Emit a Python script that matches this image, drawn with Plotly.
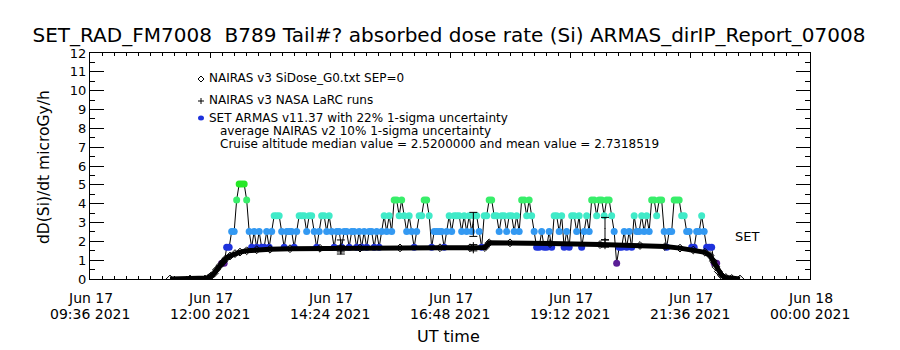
import plotly.graph_objects as go
from datetime import datetime, timedelta

# ---------------- data ----------------
DAY = "2021-06-17"

# ARMAS quantised dose-rate levels (microGy/h) and their colours
armas_levels = [0.84, 1.68, 2.52, 3.36, 4.20, 5.04]
armas_level_colors = ["#5a1e96", "#1e32dc", "#3399f2", "#40eac8", "#38ee6a", "#26e826"]
armas_start = "2021-06-17 12:14"
armas_step_minutes = 3
# level index of every ARMAS sample (one sample every 3 minutes)
armas_codes = [
    0, 0, 1, 1, 2, 2, 4, 5, 5, 5, 4, 2,
    1, 2, 1, 2, 1, 1, 2, 1, 2, 3, 3, 3,
    2, 1, 2, 2, 2, 1, 2, 3, 3, 3, 2, 3,
    3, 2, 1, 2, 3, 3, 2, 3, 2, 1, 2, 2,
    1, 2, 2, 1, 2, 2, 1, 2, 1, 2, 1, 2,
    2, 1, 2, 1, 2, 3, 2, 3, 2, 4, 4, 3,
    4, 3, 2, 3, 2, 1, 2, 3, 3, 4, 4, 3,
    1, 2, 2, 2, 2, 1, 2, 3, 2, 3, 3, 3,
    2, 3, 2, 3, 2, 3, 3, 2, 1, 3, 3, 4,
    4, 3, 3, 2, 3, 3, 2, 3, 3, 2, 3, 2,
    4, 4, 3, 4, 3, 2, 1, 1, 2, 1, 1, 2,
    1, 3, 3, 2, 3, 1, 2, 1, 3, 3, 2, 3,
    1, 2, 3, 2, 4, 4, 3, 4, 4, 3, 4, 4,
    3, 2, 0, 1, 1, 2, 1, 2, 1, 3, 2, 2,
    3, 2, 3, 2, 4, 4, 3, 4, 4, 2, 1, 2,
    2, 4, 4, 4, 3, 3, 2, 2, 1, 1, 2, 2,
    3, 2, 1, 1, 1, 0, 0,
]

# NAIRAS v3 model (SiDose_G0.txt, SEP=0)
nairas_times = ["11:12", "11:36", "11:54", "11:58", "12:01", "12:05", "12:08", "12:12",
                "12:16", "12:19", "12:24", "12:30", "12:36", "12:44", "12:56", "13:12",
                "13:36", "14:12", "15:00", "15:48", "16:36", "17:12", "17:30", "17:35",
                "18:00", "18:48", "19:48", "20:36", "21:06", "21:24", "21:40", "21:54",
                "22:00", "22:04", "22:07", "22:10", "22:14", "22:19", "22:26", "22:36"]
nairas_values = [0, 0, 0, 0.05, 0.15, 0.30, 0.50, 0.72,
                 0.92, 1.08, 1.22, 1.35, 1.43, 1.50, 1.55, 1.58,
                 1.61, 1.63, 1.64, 1.65, 1.66, 1.66, 1.67, 1.92,
                 1.92, 1.88, 1.83, 1.78, 1.72, 1.64, 1.54, 1.42,
                 1.25, 0.95, 0.65, 0.40, 0.18, 0.08, 0.03, 0]

# comparison points with uncertainties
cmp_times = ["14:37", "17:16", "19:54"]
armas_avg = [1.70, 2.90, 2.68]
armas_sigma = 0.22
larc_values = [1.60, 1.66, 1.88]
nairas_sigma = 0.10

x_tick_times = ["2021-06-17 09:36", "2021-06-17 12:00", "2021-06-17 14:24", "2021-06-17 16:48",
                "2021-06-17 19:12", "2021-06-17 21:36", "2021-06-18 00:00"]
x_tick_line1 = ["Jun 17", "Jun 17", "Jun 17", "Jun 17", "Jun 17", "Jun 17", "Jun 18"]
x_tick_line2 = ["09:36 2021", "12:00 2021", "14:24 2021", "16:48 2021",
                "19:12 2021", "21:36 2021", "00:00 2021"]

title_text = "SET_RAD_FM7008\u00a0\u00a0B789 Tail#? absorbed dose rate (Si) ARMAS_dirIP_Report_07008"
legend_lines = ["NAIRAS v3 SiDose_G0.txt SEP=0",
                "NAIRAS v3 NASA LaRC runs",
                "SET ARMAS v11.37 with 22% 1-sigma uncertainty",
                "average NAIRAS v2 10% 1-sigma uncertainty",
                "Cruise altitude median value = 2.5200000 and mean value = 2.7318519"]

# ---------------- derived ----------------
t0 = datetime.strptime(armas_start, "%Y-%m-%d %H:%M")
armas_t = [t0 + timedelta(minutes=armas_step_minutes * i) for i in range(len(armas_codes))]
armas_v = [armas_levels[c] for c in armas_codes]
armas_c = [armas_level_colors[c] for c in armas_codes]

def hm(s):
    return datetime.strptime(DAY + " " + s, "%Y-%m-%d %H:%M")

nt = [hm(s) for s in nairas_times]
ct = [hm(s) for s in cmp_times]

FONT = "DejaVu Sans"
fig = go.Figure()

# ARMAS connecting line
fig.add_trace(go.Scatter(x=armas_t, y=armas_v, mode="lines",
                         line=dict(color="black", width=1), hoverinfo="skip", showlegend=False))
# ARMAS coloured samples
fig.add_trace(go.Scatter(x=armas_t, y=armas_v, mode="markers",
                         marker=dict(color=armas_c, size=7, symbol="circle", line=dict(width=0)),
                         showlegend=False))
# NAIRAS model
fig.add_trace(go.Scatter(x=nt, y=nairas_values, mode="lines+markers",
                         line=dict(color="black", width=5),
                         marker=dict(symbol="diamond-open", size=6, color="black", line=dict(width=1)),
                         showlegend=False))
# ARMAS averages with 22% uncertainty
fig.add_trace(go.Scatter(x=ct, y=armas_avg, mode="markers",
                         marker=dict(size=1, color="black"),
                         error_y=dict(type="data", array=[v * armas_sigma for v in armas_avg],
                                      color="black", thickness=1, width=4),
                         showlegend=False))
# NASA LaRC runs with 10% uncertainty
fig.add_trace(go.Scatter(x=ct, y=larc_values, mode="markers",
                         marker=dict(symbol="cross-thin", size=8, color="black",
                                     line=dict(width=1, color="black")),
                         error_y=dict(type="data", array=[v * nairas_sigma for v in larc_values],
                                      color="black", thickness=1, width=4),
                         showlegend=False))

# ---------------- layout ----------------
PL, PR, PT, PB = 90, 810, 53, 279
W, H = 900, 350
pw, ph = PR - PL, PB - PT

def px(xp):
    return (xp - PL) / pw

def py(yp):
    return (PB - yp) / ph

def fnt(size):
    return dict(family=FONT, size=size, color="black")

annotations = []
shapes = []
# legend texts
leg_pos = [(207, 78), (207, 100), (207, 118), (218, 131), (218, 144)]
for txt, (lx, ly) in zip(legend_lines, leg_pos):
    annotations.append(dict(text=txt, xref="paper", yref="paper", x=px(lx), y=py(ly),
                            xanchor="left", yanchor="middle", showarrow=False, font=fnt(12)))
# legend symbols
shapes.append(dict(type="path", xref="paper", yref="paper", xsizemode="pixel", ysizemode="pixel",
                   xanchor=px(201), yanchor=py(79), path="M -3 0 L 0 3 L 3 0 L 0 -3 Z",
                   line=dict(color="black", width=1)))
shapes.append(dict(type="path", xref="paper", yref="paper", xsizemode="pixel", ysizemode="pixel",
                   xanchor=px(201), yanchor=py(101), path="M -3 0 L 3 0 M 0 -3 L 0 3",
                   line=dict(color="black", width=1)))
shapes.append(dict(type="circle", xref="paper", yref="paper", xsizemode="pixel", ysizemode="pixel",
                   xanchor=px(201), yanchor=py(118), x0=-3, x1=3, y0=-2.5, y1=2.5,
                   fillcolor=armas_level_colors[1], line=dict(width=0)))

# x tick labels (two tightly spaced rows)
for tv, l1, l2 in zip(x_tick_times, x_tick_line1, x_tick_line2):
    annotations.append(dict(text=l1, xref="x", yref="paper", x=tv, y=py(298),
                            xanchor="center", yanchor="middle", showarrow=False, font=fnt(14)))
    annotations.append(dict(text=l2, xref="x", yref="paper", x=tv, y=py(314),
                            xanchor="center", yanchor="middle", showarrow=False, font=fnt(14)))

annotations.append(dict(text="SET", xref="paper", yref="paper", x=px(747), y=py(237),
                        xanchor="center", yanchor="middle", showarrow=False, font=fnt(13)))
annotations.append(dict(text="dD(Si)/dt microGy/h", xref="paper", yref="paper", x=px(44), y=py(167),
                        xanchor="center", yanchor="middle", textangle=-90, showarrow=False,
                        font=fnt(15.5)))
annotations.append(dict(text="UT time", xref="paper", yref="paper", x=px(448), y=py(336),
                        xanchor="center", yanchor="middle", showarrow=False, font=fnt(16)))

fig.update_layout(
    width=W, height=H,
    margin=dict(l=PL, r=W - PR, t=PT, b=H - PB),
    paper_bgcolor="white", plot_bgcolor="white",
    showlegend=False,
    title=dict(text=title_text, x=449 / W, xanchor="center",
               y=1 - 35 / H, yanchor="middle", font=fnt(20)),
    annotations=annotations,
    shapes=shapes,
    font=dict(family=FONT, color="black"),
)
fig.update_xaxes(
    type="date",
    range=["2021-06-17 09:36", "2021-06-18 00:00"],
    tickvals=x_tick_times, showticklabels=False,
    ticks="inside", ticklen=5, tickcolor="black",
    showline=True, linecolor="black", linewidth=1, mirror="ticks",
    showgrid=False, zeroline=False,
    minor=dict(ticks="inside", ticklen=3, tickcolor="black", dtick=14.4 * 60 * 1000,
               tick0="2021-06-17 09:36", showgrid=False),
)
fig.update_yaxes(
    range=[0, 12], dtick=1, tick0=0,
    ticks="inside", ticklen=14, tickcolor="black",
    showline=True, linecolor="black", linewidth=1, mirror="ticks",
    showgrid=False, zeroline=False,
    tickfont=fnt(13),
    minor=dict(ticks="inside", ticklen=5, tickcolor="black", dtick=0.5, showgrid=False),
)

fig.write_html("out.html")
